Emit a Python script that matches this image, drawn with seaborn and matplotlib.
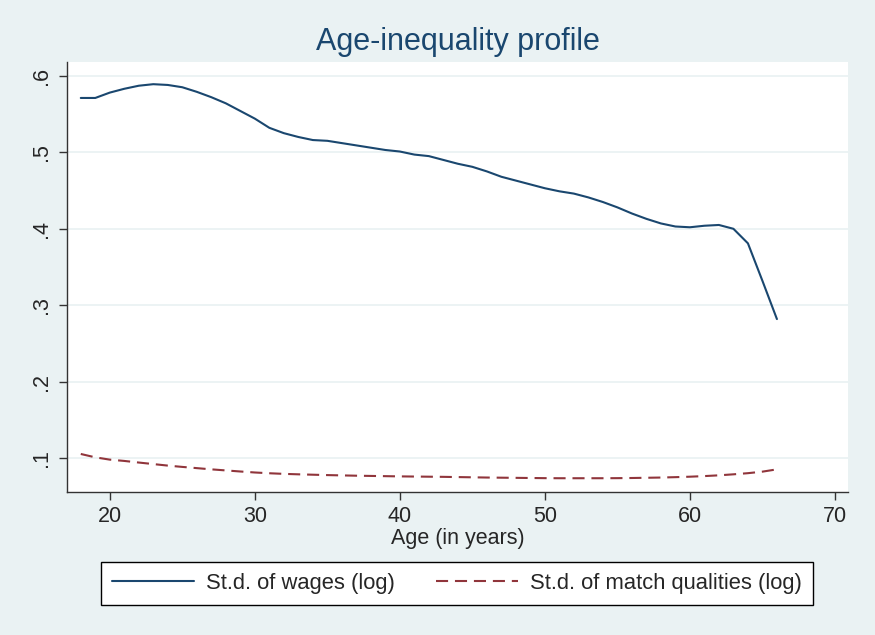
import numpy as np
import pandas as pd
import matplotlib
matplotlib.use("Agg")
import matplotlib.pyplot as plt
import seaborn as sns

# ── Data ──
ages = list(range(18, 67))
wage_sd = [0.571, 0.571, 0.578, 0.583, 0.587, 0.589, 0.588, 0.585, 0.579, 0.572,
           0.564, 0.554, 0.544, 0.532, 0.525, 0.520, 0.516, 0.515, 0.512, 0.509,
           0.506, 0.503, 0.501, 0.497, 0.495, 0.490, 0.485, 0.481, 0.475, 0.468,
           0.463, 0.458, 0.453, 0.449, 0.446, 0.441, 0.435, 0.428, 0.420, 0.413,
           0.407, 0.403, 0.402, 0.404, 0.405, 0.400, 0.381, 0.332, 0.282]
match_sd = [0.1057, 0.1013, 0.0983, 0.0966, 0.0945, 0.0925, 0.0905, 0.0888, 0.0872, 0.0856,
            0.0842, 0.0828, 0.0815, 0.0805, 0.0797, 0.0791, 0.0786, 0.0781, 0.0777, 0.0773,
            0.0770, 0.0767, 0.0764, 0.0762, 0.0760, 0.0758, 0.0755, 0.0752, 0.0749, 0.0747,
            0.0745, 0.0743, 0.0741, 0.0740, 0.0740, 0.0740, 0.0740, 0.0741, 0.0743, 0.0746,
            0.0749, 0.0754, 0.0760, 0.0768, 0.0778, 0.0791, 0.0806, 0.0826, 0.0856]
series_labels = ["St.d. of wages (log)", "St.d. of match qualities (log)"]
y_ticks = [0.1, 0.2, 0.3, 0.4, 0.5, 0.6]
y_tick_labels = [".1", ".2", ".3", ".4", ".5", ".6"]
x_ticks = [20, 30, 40, 50, 60, 70]

df = pd.DataFrame({"age": ages, "wages": wage_sd, "match": match_sd})

# ── Style ──
sns.set_style("white")
plt.rcParams["font.family"] = ["Liberation Sans", "DejaVu Sans"]

bg = "#eaf2f3"
blue = "#1a476f"
red = "#90353b"

fig = plt.figure(figsize=(8.75, 6.35), dpi=100, facecolor=bg)
ax = fig.add_axes([67 / 875, 1 - 492 / 635, (848 - 67) / 875, (492 - 62) / 635])
ax.set_facecolor("white")

sns.lineplot(data=df, x="age", y="wages", ax=ax, color=blue, lw=1.5,
             label=series_labels[0], legend=False)
sns.lineplot(data=df, x="age", y="match", ax=ax, color=red, lw=1.5,
             dashes=False, label=series_labels[1], legend=False)
ax.lines[1].set_dashes((5.8, 3.3))

ax.set_xlim(17.05, 70.9)
ax.set_ylim(0.056, 0.618)
ax.set_xticks(x_ticks)
ax.set_yticks(y_ticks)
ax.set_yticklabels(y_tick_labels)
ax.yaxis.grid(True, color=bg, lw=1.3)
ax.set_axisbelow(True)

for side in ["top", "right"]:
    ax.spines[side].set_visible(False)
for side in ["left", "bottom"]:
    ax.spines[side].set_color("#333333")
    ax.spines[side].set_linewidth(1.0)

ax.tick_params(axis="both", direction="out", length=6, width=1, color="#333333",
               labelsize=15.5, pad=4, bottom=True, left=True)
ax.tick_params(axis="y", labelrotation=90, pad=5)
for lbl in ax.get_yticklabels():
    lbl.set_va("center")

ax.set_xlabel("Age (in years)", fontsize=15.5, labelpad=1)
ax.set_ylabel("")
fig.text(457.5 / 875, 1 - 42 / 635, "Age-inequality profile", ha="center", va="center",
         fontsize=22, color=blue)

handles, labels = ax.get_legend_handles_labels()
leg = fig.legend(handles, labels, ncol=2, loc="center",
                 bbox_to_anchor=(457 / 875, 1 - 583.5 / 635),
                 fontsize=15.8, frameon=True, fancybox=False,
                 handlelength=3.75, handletextpad=0.55, borderaxespad=0,
                 borderpad=0.5, columnspacing=1.85)
leg.get_frame().set_edgecolor("black")
leg.get_frame().set_linewidth(1.0)
leg.get_frame().set_facecolor("white")
leg.get_frame().set_alpha(1)

fig.savefig("out.png", dpi=100, facecolor=bg)
